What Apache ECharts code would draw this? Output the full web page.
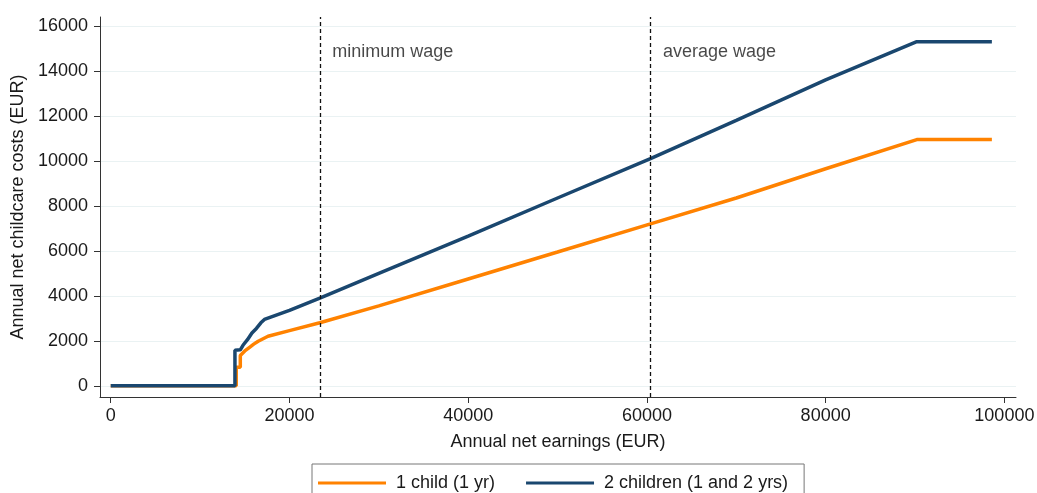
<!DOCTYPE html>
<html>
<head>
<meta charset="utf-8">
<script src="https://cdn.jsdelivr.net/npm/echarts@6/dist/echarts.min.js"></script>
<style>
  html, body { margin: 0; padding: 0; background: #fff; }
  #chart { width: 1037px; height: 493px; }
</style>
</head>
<body>
<div id="chart"></div>
<script>
// 1 child (1 yr)
var earnings1 = [0, 14050, 14050, 14500, 14500, 15000, 15500, 16000, 16500, 17000, 17600, 20000, 23400, 30000, 40000, 50000, 60400, 70000, 80000, 90200, 98600];
var costs1    = [0, 0,     820,   820,   1350,  1550,  1700,  1850,  1980,  2080,  2200,  2450,  2800,  3550,  4750,  5950,  7200,  8350,  9650,  10950, 10950];

// 2 children (1 and 2 yrs)
var earnings2 = [0, 13900, 13900, 14500, 14800, 15300, 15800, 16300, 16800, 17200, 20000, 23400, 30000, 40000, 50000, 60400, 70000, 80000, 90200, 98600];
var costs2    = [0, 0,     1580,  1600,  1800,  2050,  2350,  2550,  2800,  2950,  3350,  3900,  5000,  6650,  8350,  10100, 11800, 13600, 15300, 15300];

var seriesNames = ['1 child (1 yr)', '2 children (1 and 2 yrs)'];

// reference wages
var wageValues = [23400, 60400];
var wageNames = ['minimum wage', 'average wage'];

var xTicks = [0, 20000, 40000, 60000, 80000, 100000];
var yTicks = [0, 2000, 4000, 6000, 8000, 10000, 12000, 14000, 16000];

function pairs(xs, ys) {
    return xs.map(function (x, i) { return [x, ys[i]]; });
}

var chart = echarts.init(document.getElementById('chart'));
var font = 'Liberation Sans, Arial, sans-serif';
var ink = '#1a1a1a';

chart.setOption({
    animation: false,
    textStyle: { fontFamily: font },
    grid: { left: 100, right: 21, top: 17, bottom: 96, outerBoundsMode: 'none', containLabel: false },
    legend: {
        data: seriesNames,
        left: 312,
        top: 464,
        icon: 'rect',
        itemWidth: 68,
        itemHeight: 3,
        itemGap: 31,
        selectedMode: false,
        borderColor: '#777',
        borderWidth: 1,
        padding: [10, 16, 8, 6],
        formatter: function (n) { return ' ' + n; },
        textStyle: { fontSize: 18, color: ink, fontFamily: font }
    },
    xAxis: {
        type: 'value',
        min: -1200,
        max: 101300,
        name: 'Annual net earnings (EUR)',
        nameLocation: 'middle',
        nameGap: 36,
        nameTextStyle: { fontSize: 18, color: ink },
        axisLine: { onZero: false, lineStyle: { color: '#333', width: 1 } },
        axisTick: { show: true, length: 6, customValues: xTicks, lineStyle: { color: '#333' } },
        axisLabel: {
            customValues: xTicks, fontSize: 18, color: ink, margin: 10,
            formatter: function (v) { return String(v); }
        },
        splitLine: { show: false }
    },
    yAxis: {
        type: 'value',
        min: -500,
        max: 16400,
        name: 'Annual net childcare costs (EUR)',
        nameLocation: 'middle',
        nameGap: 69,
        nameTextStyle: { fontSize: 18, color: ink },
        axisLine: { show: true, onZero: false, lineStyle: { color: '#333', width: 1 } },
        axisTick: { show: true, length: 6, customValues: yTicks, lineStyle: { color: '#333' } },
        axisLabel: {
            customValues: yTicks, fontSize: 18, color: ink, margin: 12,
            formatter: function (v) { return String(v); }
        },
        splitLine: { show: true, lineStyle: { color: '#eaf2f3', width: 1 } }
    },
    series: [
        {
            name: seriesNames[0],
            type: 'line',
            data: pairs(earnings1, costs1),
            showSymbol: false,
            color: '#FF8200',
            lineStyle: { width: 3.5, color: '#FF8200' },
            z: 3
        },
        {
            name: seriesNames[1],
            type: 'line',
            data: pairs(earnings2, costs2),
            showSymbol: false,
            color: '#1A476F',
            lineStyle: { width: 3.5, color: '#1A476F' },
            z: 4,
            markLine: {
                silent: true,
                symbol: 'none',
                label: { show: false },
                lineStyle: { color: '#111', type: [4, 3], width: 1.3 },
                data: wageValues.map(function (v) { return { xAxis: v }; })
            }
        },
        {
            name: 'wage labels',
            type: 'scatter',
            symbolSize: 0,
            silent: true,
            data: wageValues.map(function (v, i) {
                return { value: [v + 1400, 14850], name: wageNames[i] };
            }),
            label: {
                show: true,
                position: 'right',
                distance: 0,
                formatter: '{b}',
                fontSize: 18,
                color: ink
            }
        }
    ]
});
</script>
</body>
</html>
